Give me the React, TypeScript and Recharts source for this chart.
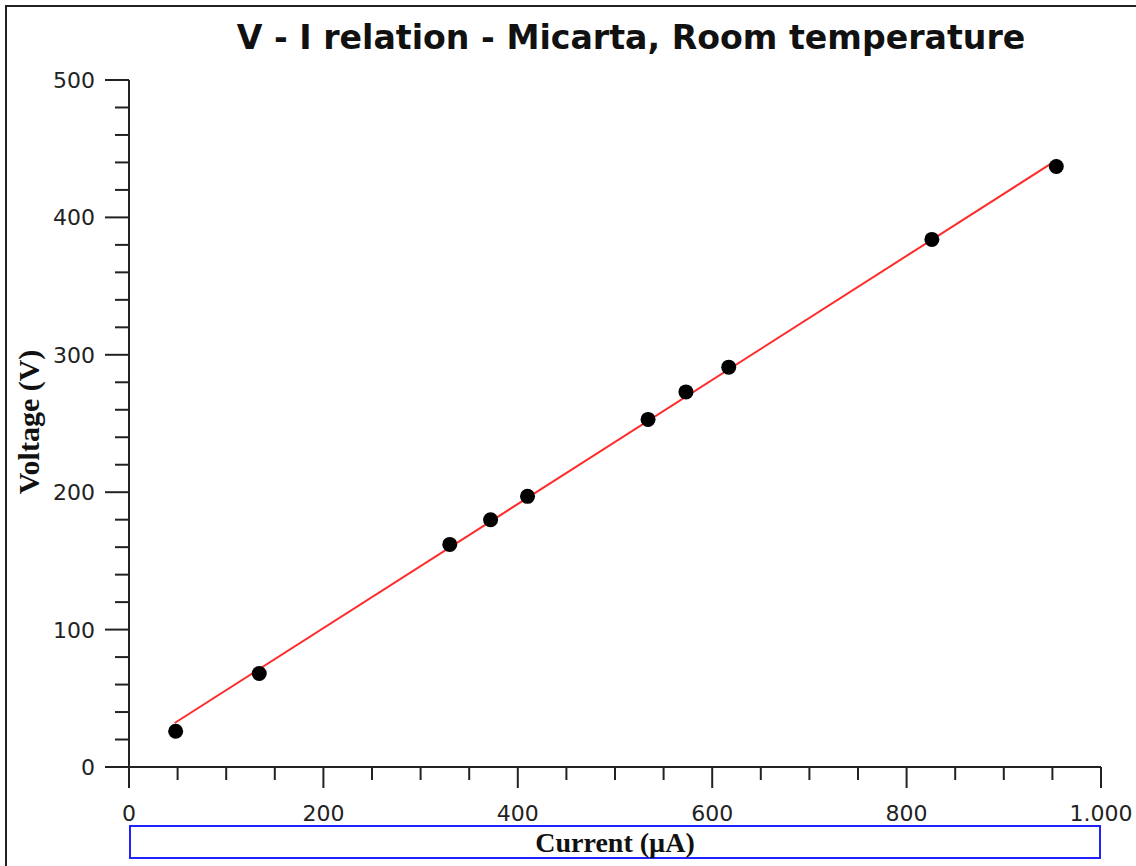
import { ScatterChart, Scatter, XAxis, YAxis } from "recharts"

// measured points: current (µA) vs voltage (V)
const currentUA = [48, 134, 330, 372, 410, 534, 573, 617, 826, 954]
const voltageV = [26, 68, 162, 180, 197, 253, 273, 291, 384, 437]

// linear fit
const fitCurrent = [47, 955]
const fitVoltage = [32, 442]

const xTicks = [0, 50, 100, 150, 200, 250, 300, 350, 400, 450, 500, 550, 600, 650, 700, 750, 800, 850, 900, 950, 1000]
const xLabelled = [0, 200, 400, 600, 800, 1000]
const yTicks = [0, 20, 40, 60, 80, 100, 120, 140, 160, 180, 200, 220, 240, 260, 280, 300, 320, 340, 360, 380, 400, 420, 440, 460, 480, 500]
const yLabelled = [0, 100, 200, 300, 400, 500]

const points = currentUA.map((x, i) => ({ x, y: voltageV[i] }))
const fit = fitCurrent.map((x, i) => ({ x, y: fitVoltage[i] }))

const INK = "#222"
const tickFont = "'DejaVu Sans', Verdana, sans-serif"

// 1000 -> "1.000"
const fmt = (v: number) => v.toLocaleString("de-DE")

function XTick({ x, y, payload }: any) {
  const major = xLabelled.includes(payload.value)
  return (
    <g>
      <line x1={x} x2={x} y1={y} y2={y + (major ? 21 : 13)} stroke={INK} strokeWidth={2} />
      {major && (
        <text x={x} y={y + 54} textAnchor="middle" fontFamily={tickFont} fontSize={22} fill={INK}>
          {fmt(payload.value)}
        </text>
      )}
    </g>
  )
}

function YTick({ x, y, payload }: any) {
  const major = yLabelled.includes(payload.value)
  return (
    <g>
      <line x1={x - (major ? 24 : 14)} x2={x} y1={y} y2={y} stroke={INK} strokeWidth={2} />
      {major && (
        <text x={x - 34} y={y + 8} textAnchor="end" fontFamily={tickFont} fontSize={22} fill={INK}>
          {fmt(payload.value)}
        </text>
      )}
    </g>
  )
}

const Dot = ({ cx, cy }: any) => <circle cx={cx} cy={cy} r={7.5} fill="#000" />
const NoDot = () => <g />

export default function App() {
  return (
    <div style={{ position: "absolute", left: 0, top: 0, width: 1136, height: 866, overflow: "hidden", background: "#fff" }}>
      {/* frame, only top and left edges are visible */}
      <div style={{ position: "absolute", left: 5, top: 5, width: 1200, height: 900, border: `2px solid ${INK}` }} />

      <div
        style={{
          position: "absolute",
          left: 0,
          width: 1262,
          top: 18,
          textAlign: "center",
          fontFamily: "'DejaVu Sans', Tahoma, sans-serif",
          fontWeight: "bold",
          fontSize: 33.2,
          lineHeight: "normal",
          color: "#111",
          whiteSpace: "nowrap",
        }}
      >
        V - I relation - Micarta, Room temperature
      </div>

      <ScatterChart width={1136} height={866} margin={{ top: 80, right: 35, bottom: 0, left: 0 }}>
        <XAxis
          type="number"
          dataKey="x"
          domain={[0, 1000]}
          ticks={xTicks}
          interval={0}
          height={99}
          tickSize={0}
          tickMargin={0}
          tickLine={false}
          axisLine={{ stroke: INK, strokeWidth: 2 }}
          tick={<XTick />}
        />
        <YAxis
          type="number"
          dataKey="y"
          domain={[0, 500]}
          ticks={yTicks}
          interval={0}
          width={129}
          tickSize={0}
          tickMargin={0}
          tickLine={false}
          axisLine={{ stroke: INK, strokeWidth: 2 }}
          tick={<YTick />}
        />
        <Scatter data={fit} line={{ stroke: "#ff2b2b", strokeWidth: 2 }} shape={NoDot} isAnimationActive={false} />
        <Scatter data={points} shape={Dot} isAnimationActive={false} />
      </ScatterChart>

      <div
        style={{
          position: "absolute",
          left: 29,
          top: 422,
          transform: "translate(-50%, -50%) rotate(-90deg)",
          transformOrigin: "center",
          fontFamily: "'Liberation Serif', 'Times New Roman', serif",
          fontWeight: "bold",
          fontSize: 30,
          color: "#111",
          whiteSpace: "nowrap",
        }}
      >
        Voltage (V)
      </div>

      <div
        style={{
          position: "absolute",
          left: 129,
          top: 825,
          width: 968,
          height: 30,
          border: "2px solid #2222ff",
          textAlign: "center",
          fontFamily: "'Liberation Serif', 'Times New Roman', serif",
          fontWeight: "bold",
          fontSize: 28,
          lineHeight: "31px",
          color: "#111",
        }}
      >
        Current (µA)
      </div>
    </div>
  )
}
